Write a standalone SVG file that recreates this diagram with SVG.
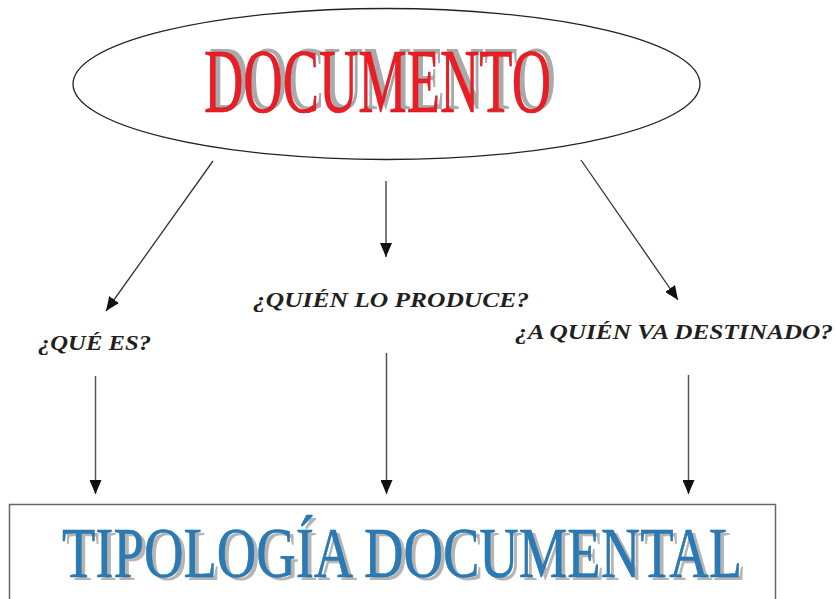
<svg xmlns="http://www.w3.org/2000/svg" width="836" height="599" viewBox="0 0 836 599">
<style>
.lbl{font-family:"Liberation Serif","Times New Roman",serif;font-style:italic;font-weight:bold;font-size:20px;fill:#231f20}
.title{font-family:"Liberation Serif","Times New Roman",serif;font-size:91px}
.big{font-family:"Liberation Serif","Times New Roman",serif;font-size:72px}
.line{stroke:#333;stroke-width:1.3;fill:none}
.line2{stroke:#555;stroke-width:1.5;fill:none}
</style>
<defs>
<marker id="ah" markerUnits="userSpaceOnUse" markerWidth="14" markerHeight="12" viewBox="0 0 14 12" refX="14" refY="6" orient="auto">
<path d="M0,0 L14,6 L0,12 Z" fill="#111"/>
</marker>
</defs>
<rect width="836" height="599" fill="#fff"/>
<g id="documento">
<ellipse cx="386.5" cy="84" rx="313.5" ry="75.5" fill="none" stroke="#222" stroke-width="1.3"/>
<text class="title" x="209" y="109" fill="#aaaaaa" textLength="347" lengthAdjust="spacingAndGlyphs">DOCUMENTO</text>
<text class="title" x="204" y="112" fill="#ed1c24" stroke="#c0141b" stroke-width="0.6" textLength="347" lengthAdjust="spacingAndGlyphs">DOCUMENTO</text>
</g>
<g id="que-es">
<text class="lbl" x="38" y="350" textLength="113" lengthAdjust="spacingAndGlyphs">¿QUÉ ES?</text>
</g>
<g id="quien-produce">
<text class="lbl" x="253" y="307" textLength="276" lengthAdjust="spacingAndGlyphs">¿QUIÉN LO PRODUCE?</text>
</g>
<g id="a-quien">
<text class="lbl" x="515" y="339" textLength="318" lengthAdjust="spacingAndGlyphs">¿A QUIÉN VA DESTINADO?</text>
</g>
<g id="tipologia">
<rect x="9.5" y="504.5" width="766" height="120" fill="none" stroke="#666" stroke-width="1.5"/>
<text class="big" x="66" y="580" fill="#b5b5b5" textLength="680" lengthAdjust="spacingAndGlyphs">TIPOLOGÍA DOCUMENTAL</text>
<text class="big" x="62" y="577" fill="#2a7ab5" stroke="#1f6aa0" stroke-width="0.5" textLength="680" lengthAdjust="spacingAndGlyphs">TIPOLOGÍA DOCUMENTAL</text>
</g>
<g id="connectors">
<line class="line" x1="213" y1="161" x2="106" y2="311" marker-end="url(#ah)"/>
<line class="line" x1="386" y1="181" x2="386" y2="257" marker-end="url(#ah)"/>
<line class="line" x1="581" y1="160" x2="678" y2="300" marker-end="url(#ah)"/>
<line class="line2" x1="95.5" y1="376" x2="95.5" y2="494" marker-end="url(#ah)"/>
<line class="line2" x1="386.5" y1="353" x2="386.5" y2="494" marker-end="url(#ah)"/>
<line class="line2" x1="688.5" y1="375" x2="688.5" y2="494" marker-end="url(#ah)"/>
</g>
</svg>
